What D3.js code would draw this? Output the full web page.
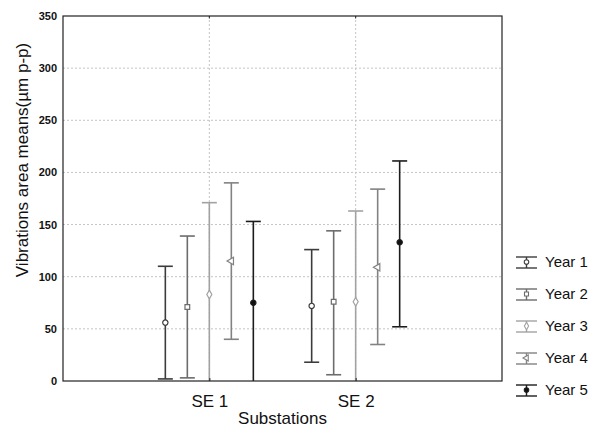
<!DOCTYPE html>
<html>
<head>
<meta charset="utf-8">
<script src="https://cdn.jsdelivr.net/npm/d3@7"></script>
<style>
  body { margin: 0; background: #fff; }
  text { font-family: "Liberation Sans", Arial, sans-serif; fill: #111; }
  .grid line { stroke: #c4c4c4; stroke-dasharray: 2,2; }
  .ytick text { font-size: 11px; font-weight: bold; }
</style>
</head>
<body>
<svg id="chart"></svg>
<script>
// Data
const substations = ["SE 1", "SE 2"];
const years = ["Year 1", "Year 2", "Year 3", "Year 4", "Year 5"];
const meanSE1 = [56, 71, 83, 115, 75];
const lowSE1  = [2, 3, -5, 40, -3];
const highSE1 = [110, 139, 171, 190, 153];
const meanSE2 = [72, 76, 76, 109, 133];
const lowSE2  = [18, 6, -11, 35, 52];
const highSE2 = [126, 144, 163, 184, 211];
const yTicks = [0, 50, 100, 150, 200, 250, 300, 350];

const yearColor = ["#3c3c3c", "#6c6c6c", "#a2a2a2", "#828282", "#1c1c1c"];
const yearFill  = ["#fff", "#fff", "#fff", "#fff", "#111"];
const yearSym   = [d3.symbolCircle, d3.symbolSquare, d3.symbolDiamond, d3.symbolTriangle, d3.symbolCircle];

const totalW = 602, totalH = 428;
const mg = { top: 16, right: 100, bottom: 47, left: 63 };
const W = totalW - mg.left - mg.right;
const H = totalH - mg.top - mg.bottom;

const svg = d3.select('#chart').attr('width', totalW).attr('height', totalH);
const g = svg.append('g').attr('transform', `translate(${mg.left},${mg.top})`);

const x = d3.scalePoint().domain(substations).range([0, W]).padding(1);
const dx = d3.scalePoint().domain(years).range([-44, 44]);
const y = d3.scaleLinear().domain([0, 350]).range([H, 0]);

// grid
const grid = g.append('g').attr('class', 'grid');
yTicks.filter(t => t > 0 && t < 350).forEach(t => {
  grid.append('line').attr('x1', 0).attr('x2', W).attr('y1', y(t)).attr('y2', y(t));
});
substations.forEach(s => {
  grid.append('line').attr('x1', x(s)).attr('x2', x(s)).attr('y1', 0).attr('y2', H);
});

// clip for intervals that drop below zero
g.append('clipPath').attr('id', 'plotclip')
  .append('rect').attr('x', 0).attr('y', 0).attr('width', W).attr('height', H);

const rows = [];
substations.forEach((s, si) => {
  const m = si === 0 ? meanSE1 : meanSE2;
  const lo = si === 0 ? lowSE1 : lowSE2;
  const hi = si === 0 ? highSE1 : highSE2;
  years.forEach((yr, i) => rows.push({ s, i, yr, mean: m[i], lo: lo[i], hi: hi[i] }));
});

const bars = g.append('g').attr('clip-path', 'url(#plotclip)');
const capW = 7.5;
rows.forEach(d => {
  const cx = x(d.s) + dx(d.yr);
  const c = yearColor[d.i];
  bars.append('line').attr('x1', cx).attr('x2', cx).attr('y1', y(d.hi)).attr('y2', y(d.lo))
    .attr('stroke', c).attr('stroke-width', 1.6);
  [d.hi, d.lo].forEach(v => {
    bars.append('line').attr('x1', cx - capW).attr('x2', cx + capW).attr('y1', y(v)).attr('y2', y(v))
      .attr('stroke', c).attr('stroke-width', 1.6);
  });
});
rows.forEach(d => {
  const cx = x(d.s) + dx(d.yr);
  g.append('path').attr('d', d3.symbol().type(yearSym[d.i]).size(d.i === 3 ? 24 : 22)())
    .attr('transform', `translate(${cx},${y(d.mean)})` + (d.i === 3 ? ' rotate(-90)' : ''))
    .attr('fill', yearFill[d.i]).attr('stroke', yearColor[d.i]).attr('stroke-width', 1.2);
});

// frame
g.append('rect').attr('x', 0).attr('y', 0).attr('width', W).attr('height', H)
  .attr('fill', 'none').attr('stroke', '#222').attr('stroke-width', 1.2);

// y axis labels
const yAxis = g.append('g').attr('class', 'ytick')
  .call(d3.axisLeft(y).tickValues(yTicks).tickSize(0).tickPadding(6));
yAxis.select('.domain').remove();

// x axis labels
const xAxis = g.append('g').attr('transform', `translate(0,${H})`)
  .call(d3.axisBottom(x).tickSize(3).tickPadding(11));
xAxis.select('.domain').remove();
xAxis.selectAll('.tick line').attr('stroke', '#222').attr('transform', 'translate(0,-3)');
xAxis.selectAll('text').attr('font-size', 17).attr('fill', '#111');

// top ticks
substations.forEach(s => {
  g.append('line').attr('x1', x(s)).attr('x2', x(s)).attr('y1', 0).attr('y2', 2.5).attr('stroke', '#222');
});

// axis titles
svg.append('text').attr('x', mg.left + x(substations[0]) + (x(substations[1]) - x(substations[0])) / 2)
  .attr('y', 424).attr('text-anchor', 'middle').attr('font-size', 17).text('Substations');
svg.append('text').attr('transform', 'translate(28,160) rotate(-90)')
  .attr('text-anchor', 'middle').attr('font-size', 17).text('Vibrations area means(\u00b5m p-p)');

// legend
const lg = svg.append('g').attr('transform', 'translate(516,262)');
years.forEach((yr, i) => {
  const it = lg.append('g').attr('transform', `translate(0,${i * 32})`);
  const c = yearColor[i];
  it.append('line').attr('x1', 0).attr('x2', 21).attr('y1', -5).attr('y2', -5).attr('stroke', c).attr('stroke-width', 1.4);
  it.append('line').attr('x1', 0).attr('x2', 21).attr('y1', 6).attr('y2', 6).attr('stroke', c).attr('stroke-width', 1.4);
  it.append('line').attr('x1', 10.5).attr('x2', 10.5).attr('y1', -5).attr('y2', 6).attr('stroke', c).attr('stroke-width', 1.4);
  it.append('path').attr('d', d3.symbol().type(yearSym[i]).size(16)())
    .attr('transform', `translate(10.5,0)` + (i === 3 ? ' rotate(-90)' : ''))
    .attr('fill', yearFill[i]).attr('stroke', c).attr('stroke-width', 1.1);
  it.append('text').attr('x', 29).attr('y', 5).attr('font-size', 15).text(yr);
});
</script>
</body>
</html>
